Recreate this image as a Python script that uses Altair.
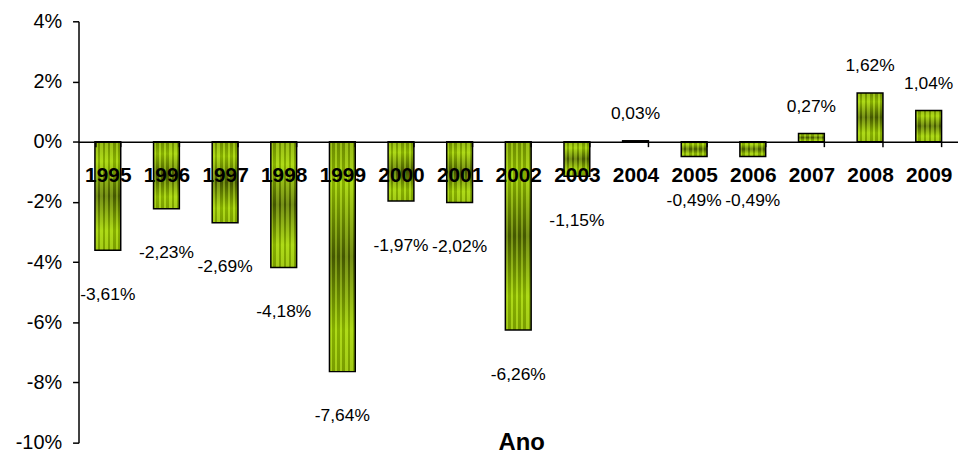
import altair as alt
import pandas as pd

# Annual change, in percent, 1995-2009
years = [str(y) for y in range(1995, 2010)]
changes = [-3.61, -2.23, -2.69, -4.18, -7.64, -1.97, -2.02, -6.26,
           -1.15, 0.03, -0.49, -0.49, 0.27, 1.62, 1.04]
y_ticks = [-0.10, -0.08, -0.06, -0.04, -0.02, 0.0, 0.02, 0.04]
y_domain = [-0.10, 0.04]

df = pd.DataFrame({
    "ano": years,
    "variacao": [v / 100 for v in changes],
    "rotulo": [f"{v:.2f}".replace(".", ",") + "%" for v in changes],
})

FONT = "Liberation Sans"
W, H = 885, 424
# pixel distance from the bottom of the plot up to the zero line
zero_from_bottom = H * (0 - y_domain[0]) / (y_domain[1] - y_domain[0])

x_enc = alt.X(
    "ano:N",
    sort=years,
    scale=alt.Scale(paddingInner=0.56, paddingOuter=0.28),
    axis=alt.Axis(
        orient="bottom",
        offset=-zero_from_bottom,
        tickBand="extent",
        tickSize=5,
        tickWidth=1.5,
        tickColor="black",
        domainColor="black",
        domainWidth=1.5,
        labelAngle=0,
        labelFont=FONT,
        labelFontSize=21,
        labelFontWeight="bold",
        labelColor="black",
        labelBaseline="alphabetic",
        labelPadding=35,
        title="Ano",
        titleFont=FONT,
        titleFontSize=24,
        titleFontWeight="bold",
        titleColor="black",
        titleBaseline="alphabetic",
        titleX=W / 2 + 3,
        titleY=310,
        zindex=1,
    ),
)

y_enc = alt.Y(
    "variacao:Q",
    scale=alt.Scale(domain=y_domain, nice=False, zero=False),
    axis=alt.Axis(
        values=y_ticks,
        labelExpr="round(datum.value * 100) + '%'",
        labelFont=FONT,
        labelFontSize=20,
        labelColor="black",
        labelPadding=11,
        tickSize=6,
        tickWidth=1.5,
        tickColor="black",
        domainColor="black",
        domainWidth=1.5,
        grid=False,
        title=None,
    ),
)

# olive body: bright ends, dark middle
body_fill = alt.Gradient(
    gradient="linear",
    x1=0, x2=0, y1=0, y2=1,
    stops=[
        alt.GradientStop(color="#7d9f00", offset=0),
        alt.GradientStop(color="#9dcb00", offset=0.18),
        alt.GradientStop(color="#4c6000", offset=0.5),
        alt.GradientStop(color="#9dcb00", offset=0.82),
        alt.GradientStop(color="#8db500", offset=1),
    ],
)

# thin vertical stripes laid over the body
stripe_stops = []
n_stripes = 10
for i in range(n_stripes):
    col = "rgba(215,255,80,0.30)" if i % 2 == 0 else "rgba(30,45,0,0.18)"
    stripe_stops.append(alt.GradientStop(color=col, offset=i / n_stripes))
    stripe_stops.append(alt.GradientStop(color=col, offset=(i + 1) / n_stripes))
stripe_fill = alt.Gradient(gradient="linear", x1=0, x2=1, y1=0, y2=0, stops=stripe_stops)

base = alt.Chart(df)

bars = base.mark_bar(fill=body_fill, stroke=None).encode(x=x_enc, y=y_enc)
stripes = base.mark_bar(fill=stripe_fill, stroke="black", strokeWidth=1.5).encode(x=x_enc, y=y_enc)

label_style = dict(font=FONT, fontSize=17.5, color="black", baseline="middle")
neg_labels = base.transform_filter("datum.variacao < 0").mark_text(dy=45, **label_style).encode(
    x=x_enc, y=y_enc, text="rotulo:N")
pos_labels = base.transform_filter("datum.variacao >= 0").mark_text(dy=-27, **label_style).encode(
    x=x_enc, y=y_enc, text="rotulo:N")

chart = (
    alt.layer(bars, stripes, neg_labels, pos_labels)
    .properties(
        width=W,
        height=H,
        autosize=alt.AutoSizeParams(type="none"),
        padding={"left": 79, "top": 20, "right": 0, "bottom": 12},
        background="white",
    )
    .configure_view(stroke=None)
)

chart.save("out.html", embed_options={"renderer": "svg", "actions": False})
